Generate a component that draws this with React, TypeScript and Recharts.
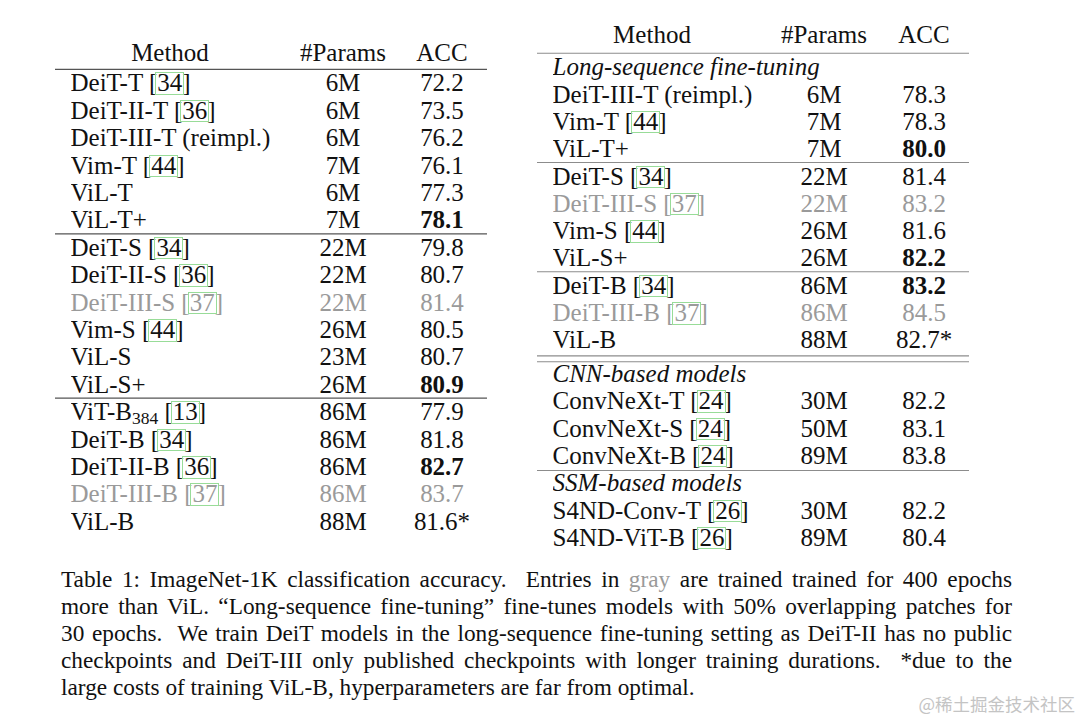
import React from "react";
import { ScatterChart, Scatter, XAxis, YAxis, ReferenceLine } from "recharts";

// ---- left table ----
const LEFT_METHODS = [
  "DeiT-T", "DeiT-II-T", "DeiT-III-T (reimpl.)", "Vim-T", "ViL-T", "ViL-T+",
  "DeiT-S", "DeiT-II-S", "DeiT-III-S", "Vim-S", "ViL-S", "ViL-S+",
  "ViT-B_384", "DeiT-B", "DeiT-II-B", "DeiT-III-B", "ViL-B",
];
const LEFT_CITES = ["34", "36", "", "44", "", "", "34", "36", "37", "44", "", "", "13", "34", "36", "37", ""];
const LEFT_PARAMS = ["6M", "6M", "6M", "7M", "6M", "7M", "22M", "22M", "22M", "26M", "23M", "26M", "86M", "86M", "86M", "86M", "88M"];
const LEFT_ACC = ["72.2", "73.5", "76.2", "76.1", "77.3", "78.1", "79.8", "80.7", "81.4", "80.5", "80.7", "80.9", "77.9", "81.8", "82.7", "83.7", "81.6*"];
const LEFT_BOLD = ["ViL-T+", "ViL-S+", "DeiT-II-B"];
const LEFT_GRAY = ["DeiT-III-S", "DeiT-III-B"];

// ---- right table, upper block ----
const LONG_SEQ_LABEL = "Long-sequence fine-tuning";
const LS_METHODS = ["DeiT-III-T (reimpl.)", "Vim-T", "ViL-T+", "DeiT-S", "DeiT-III-S", "Vim-S", "ViL-S+", "DeiT-B", "DeiT-III-B", "ViL-B"];
const LS_CITES = ["", "44", "", "34", "37", "44", "", "34", "37", ""];
const LS_PARAMS = ["6M", "7M", "7M", "22M", "22M", "26M", "26M", "86M", "86M", "88M"];
const LS_ACC = ["78.3", "78.3", "80.0", "81.4", "83.2", "81.6", "82.2", "83.2", "84.5", "82.7*"];
const LS_BOLD = ["ViL-T+", "ViL-S+", "DeiT-B"];
const LS_GRAY = ["DeiT-III-S", "DeiT-III-B"];

// ---- right table, lower block ----
const CNN_LABEL = "CNN-based models";
const CNN_METHODS = ["ConvNeXt-T", "ConvNeXt-S", "ConvNeXt-B"];
const CNN_CITES = ["24", "24", "24"];
const CNN_PARAMS = ["30M", "50M", "89M"];
const CNN_ACC = ["82.2", "83.1", "83.8"];
const SSM_LABEL = "SSM-based models";
const SSM_METHODS = ["S4ND-Conv-T", "S4ND-ViT-B"];
const SSM_CITES = ["26", "26"];
const SSM_PARAMS = ["30M", "89M"];
const SSM_ACC = ["82.2", "80.4"];

const HEADERS = ["Method", "#Params", "ACC"];

const CAPTION_LINES = [
  "Table 1: ImageNet-1K classification accuracy.\u00a0 Entries in |gray| are trained trained for 400 epochs",
  "more than ViL. \u201cLong-sequence fine-tuning\u201d fine-tunes models with 50% overlapping patches for",
  "30 epochs.\u00a0 We train DeiT models in the long-sequence fine-tuning setting as DeiT-II has no public",
  "checkpoints and DeiT-III only published checkpoints with longer training durations.\u00a0 *due to the",
  "large costs of training ViL-B, hyperparameters are far from optimal.",
];
const WATERMARK = "@稀土掘金技术社区";

// ---- style ----
const SERIF = '"Liberation Serif", "Times New Roman", Times, serif';
const FONT = 25;
const BASE_DY = 8.4; // baseline below row centre
const PAD_TOP = 14; // room above the header row so glyphs are not clipped
const INK = "#111";
const GRAY = "#9a9a9a";
const CITE_BOX = "#98dc98";

type Row = {
  method: string;
  cite?: string;
  params?: string;
  acc?: string;
  bold?: boolean;
  gray?: boolean;
  header?: boolean;
  section?: boolean;
};

type Layout = {
  top: number;
  pitch: number;
  ruleLeft: number;
  ruleRight: number;
  paramsX: number;
  accX: number;
  methodLeft: number;
  methodHeaderX: number;
  headerDy: number;
  ruleColor: string;
  ruleWidth: number;
};

function buildRows(methods: string[], cites: string[], params: string[], acc: string[], bold: string[] = [], gray: string[] = []): Row[] {
  return methods.map((m, i) => ({
    method: m,
    cite: cites[i],
    params: params[i],
    acc: acc[i],
    bold: bold.includes(m),
    gray: gray.includes(m),
  }));
}

const headerRow: Row = { method: HEADERS[0], params: HEADERS[1], acc: HEADERS[2], header: true };

const LEFT_ROWS: Row[] = [headerRow, ...buildRows(LEFT_METHODS, LEFT_CITES, LEFT_PARAMS, LEFT_ACC, LEFT_BOLD, LEFT_GRAY)];
const RIGHT_TOP_ROWS: Row[] = [
  headerRow,
  { method: LONG_SEQ_LABEL, section: true },
  ...buildRows(LS_METHODS, LS_CITES, LS_PARAMS, LS_ACC, LS_BOLD, LS_GRAY),
];
const RIGHT_LOW_ROWS: Row[] = [
  { method: CNN_LABEL, section: true },
  ...buildRows(CNN_METHODS, CNN_CITES, CNN_PARAMS, CNN_ACC),
  { method: SSM_LABEL, section: true },
  ...buildRows(SSM_METHODS, SSM_CITES, SSM_PARAMS, SSM_ACC),
];

const LEFT_LAYOUT: Layout = {
  top: 42.4, pitch: 27.4, ruleLeft: 55, ruleRight: 487, paramsX: 343, accX: 442,
  methodLeft: 70.5, methodHeaderX: 170, headerDy: -3.5, ruleColor: "#555", ruleWidth: 1.3,
};
const RIGHT_TOP_LAYOUT: Layout = {
  top: 25.75, pitch: 27.3, ruleLeft: 537, ruleRight: 969, paramsX: 824, accX: 924,
  methodLeft: 552.5, methodHeaderX: 652, headerDy: -5, ruleColor: "#8c8c8c", ruleWidth: 1.1,
};
const RIGHT_LOW_LAYOUT: Layout = { ...RIGHT_TOP_LAYOUT, top: 360.05 };

function toCells(rows: Row[]) {
  const cells: any[] = [];
  rows.forEach((r, i) => {
    cells.push({ row: i, col: 0, r });
    if (r.params !== undefined) cells.push({ row: i, col: 1, r });
    if (r.acc !== undefined) cells.push({ row: i, col: 2, r });
  });
  return cells;
}

function MethodText({ r }: { r: Row }) {
  const [name, sub] = r.method.split("_");
  return (
    <>
      {name}
      {sub && <span style={{ fontSize: "0.7em", verticalAlign: "-0.22em", lineHeight: 0 }}>{sub}</span>}
      {r.cite && (
        <>
          {" ["}
          <span style={{ position: "relative" }}>
            {r.cite}
            <span
              style={{
                position: "absolute", left: -2, right: -2, top: "0.12em", bottom: "0.06em",
                border: `1px solid ${CITE_BOX}`,
              }}
            />
          </span>
          {"]"}
        </>
      )}
    </>
  );
}

function TableChart({ rows, layout, rules, doubleRules = [] }: { rows: Row[]; layout: Layout; rules: number[]; doubleRules?: number[] }) {
  const L = layout;
  const width = L.ruleRight - L.ruleLeft;
  const height = (rows.length + 0.5) * L.pitch + PAD_TOP;
  const unit = L.accX - L.paramsX;
  const d0 = 1 - (L.paramsX - L.ruleLeft) / unit;
  const d1 = d0 + width / unit;
  const col0 = L.paramsX - unit;

  const shape = (props: any) => {
    const { cx, cy, payload } = props;
    const r: Row = payload.r;
    const col = payload.col;
    const fill = r.gray ? GRAY : INK;
    const dy = BASE_DY + (r.header ? L.headerDy : 0);
    if (col === 0 && !r.header) {
      return (
        <foreignObject x={cx + L.methodLeft - col0} y={cy - L.pitch / 2} width={330} height={L.pitch}>
          <div
            style={{
              fontFamily: SERIF, fontSize: FONT, lineHeight: `${L.pitch}px`, whiteSpace: "nowrap",
              color: fill, fontStyle: r.section ? "italic" : "normal",
            }}
          >
            <MethodText r={r} />
          </div>
        </foreignObject>
      );
    }
    const x = col === 0 ? cx + L.methodHeaderX - col0 : cx;
    const text = col === 0 ? r.method : col === 1 ? r.params : r.acc;
    return (
      <text
        x={x}
        y={cy + dy}
        textAnchor="middle"
        fill={fill}
        style={{ fontFamily: SERIF, fontSize: FONT, fontWeight: col === 2 && r.bold ? 700 : 400 }}
      >
        {text}
      </text>
    );
  };

  return (
    <div style={{ position: "absolute", left: L.ruleLeft, top: L.top - PAD_TOP, width, height }}>
      <ScatterChart width={width} height={height} margin={{ top: PAD_TOP, right: 0, bottom: 0, left: 0 }}>
        <XAxis type="number" dataKey="col" domain={[d0, d1]} allowDataOverflow hide />
        <YAxis type="number" dataKey="row" domain={[-0.5, rows.length]} allowDataOverflow reversed hide />
        {rules.map((y) => (
          <ReferenceLine key={`r${y}`} y={y} stroke={L.ruleColor} strokeWidth={L.ruleWidth} ifOverflow="visible" />
        ))}
        {doubleRules.map((y) => (
          <ReferenceLine key={`d${y}`} y={y} stroke={L.ruleColor} strokeWidth={L.ruleWidth} ifOverflow="visible" />
        ))}
        <Scatter data={toCells(rows)} shape={shape} isAnimationActive={false} />
      </ScatterChart>
    </div>
  );
}

function Caption() {
  return (
    <div
      style={{
        position: "absolute", left: 61, top: 566.2, width: 951,
        fontFamily: SERIF, fontSize: 23.3, lineHeight: "27px", color: INK,
      }}
    >
      {CAPTION_LINES.map((line, i) => {
        const parts = line.split("|");
        const last = i === CAPTION_LINES.length - 1;
        return (
          <div
            key={i}
            style={{ whiteSpace: "nowrap", textAlign: last ? "left" : "justify", textAlignLast: last ? "left" : "justify" } as any}
          >
            {parts.map((p, j) => (j % 2 === 1 ? <span key={j} style={{ color: GRAY }}>{p}</span> : <span key={j}>{p}</span>))}
          </div>
        );
      })}
    </div>
  );
}

export default function App() {
  return (
    <div style={{ position: "fixed", left: 0, top: 0, width: 1080, height: 720, background: "#fff", overflow: "hidden" }}>
      <TableChart rows={LEFT_ROWS} layout={LEFT_LAYOUT} rules={[0.5, 6.5, 12.5]} />
      <TableChart rows={RIGHT_TOP_ROWS} layout={RIGHT_TOP_LAYOUT} rules={[0.5, 4.5, 8.5]} doubleRules={[11.585, 11.8]} />
      <TableChart rows={RIGHT_LOW_ROWS} layout={RIGHT_LOW_LAYOUT} rules={[3.55]} />
      <Caption />
      <div
        style={{
          position: "absolute", right: 5, top: 691, fontFamily: '"Noto Sans CJK SC", sans-serif',
          fontSize: 17.5, color: "#c4c4c4", whiteSpace: "nowrap",
        }}
      >
        {WATERMARK}
      </div>
    </div>
  );
}
